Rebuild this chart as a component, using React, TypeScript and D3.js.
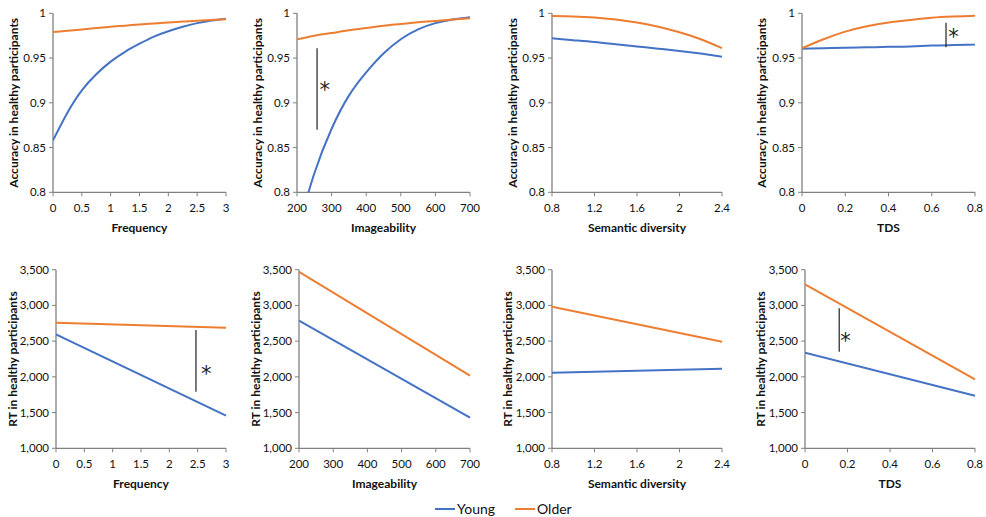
import React from "react";
import * as d3 from "d3";

// ---------- Data ----------
const freqX = [0, 0.25, 0.5, 0.75, 1, 1.25, 1.5, 1.75, 2, 2.25, 2.5, 2.75, 3];
const freqAccYoung = [0.858, 0.889, 0.914, 0.932, 0.946, 0.957, 0.966, 0.974, 0.98, 0.985, 0.989, 0.992, 0.994];
const freqAccOlder = [0.979, 0.9805, 0.982, 0.9835, 0.985, 0.9862, 0.9875, 0.9886, 0.9897, 0.9907, 0.9917, 0.9925, 0.9933];

const imgX = [200, 250, 300, 350, 400, 450, 500, 550, 600, 650, 700];
const imgAccYoung = [0.755, 0.821, 0.871, 0.908, 0.934, 0.955, 0.971, 0.982, 0.989, 0.993, 0.9955];
const imgAccOlder = [0.971, 0.975, 0.978, 0.981, 0.9835, 0.986, 0.988, 0.99, 0.9915, 0.993, 0.9945];

const semX = [0.8, 1.0, 1.2, 1.4, 1.6, 1.8, 2.0, 2.2, 2.4];
const semAccYoung = [0.972, 0.97, 0.968, 0.9655, 0.963, 0.9605, 0.958, 0.955, 0.9515];
const semAccOlder = [0.997, 0.9965, 0.9953, 0.993, 0.9896, 0.985, 0.9788, 0.971, 0.961];

const tdsX = [0, 0.1, 0.2, 0.3, 0.4, 0.5, 0.6, 0.7, 0.8];
const tdsAccYoung = [0.9604, 0.961, 0.9615, 0.962, 0.9625, 0.963, 0.964, 0.9645, 0.965];
const tdsAccOlder = [0.961, 0.971, 0.9795, 0.9855, 0.9896, 0.9925, 0.995, 0.9963, 0.9973];

const freqEnds = [0, 3];
const freqRtYoung = [2596, 1456];
const freqRtOlder = [2758, 2688];
const imgEnds = [200, 700];
const imgRtYoung = [2786, 1428];
const imgRtOlder = [3470, 2016];
const semEnds = [0.8, 2.4];
const semRtYoung = [2058, 2114];
const semRtOlder = [2982, 2492];
const tdsEnds = [0, 0.8];
const tdsRtYoung = [2338, 1736];
const tdsRtOlder = [3296, 1966];

const freqTicks = [0, 0.5, 1, 1.5, 2, 2.5, 3];
const imgTicks = [200, 300, 400, 500, 600, 700];
const semTicks = [0.8, 1.2, 1.6, 2, 2.4];
const tdsTicks = [0, 0.2, 0.4, 0.6, 0.8];
const accTicks = [0.8, 0.85, 0.9, 0.95, 1];
const rtTicks = [1000, 1500, 2000, 2500, 3000, 3500];

const seriesNames = ["Young", "Older"];
const colors = ["#4472C4", "#ED7D31"];

// significance markers: [x, yLow, yHigh, starX, starY]
const sigImgAcc = [258, 0.87, 0.961, 280, 0.922];
const sigTdsAcc = [0.666, 0.962, 0.9895, 0.7, 0.981];
const sigFreqRt = [2.47, 1792, 2656, 2.65, 2140];
const sigTdsRt = [0.161, 2352, 2960, 0.19, 2600];

// ---------- Layout ----------
const FONT = "Lato, 'Open Sans', sans-serif";

type Panel = {
  key: string;
  x0: number; x1: number;
  top: number; bottom: number;
  xDomain: number[]; yDomain: number[];
  xTicks: number[]; yTicks: number[];
  xFmt: (v: number) => string; yFmt: (v: number) => string;
  xTitle: string; yTitle: string; titleOff: number;
  xs: number[][]; ys: number[][];
  sig?: number[];
};

const accFmt = (v: number) => (v === 1 ? "1" : String(v));
const rtFmt = d3.format(",");
const numFmt = (v: number) => String(v);

const TOP = { top: 13.3, bottom: 192.3 };
const BOT = { top: 269.7, bottom: 448.3 };

const panels: Panel[] = [
  { key: "a1", x0: 53, x1: 226, ...TOP, xDomain: [0, 3], yDomain: [0.8, 1], xTicks: freqTicks, yTicks: accTicks, xFmt: numFmt, yFmt: accFmt, xTitle: "Frequency", yTitle: "Accuracy in healthy participants", titleOff: 39, xs: [freqX, freqX], ys: [freqAccYoung, freqAccOlder] },
  { key: "a2", x0: 297, x1: 470, ...TOP, xDomain: [200, 700], yDomain: [0.8, 1], xTicks: imgTicks, yTicks: accTicks, xFmt: numFmt, yFmt: accFmt, xTitle: "Imageability", yTitle: "Accuracy in healthy participants", titleOff: 39, xs: [imgX, imgX], ys: [imgAccYoung, imgAccOlder], sig: sigImgAcc },
  { key: "a3", x0: 552, x1: 722, ...TOP, xDomain: [0.8, 2.4], yDomain: [0.8, 1], xTicks: semTicks, yTicks: accTicks, xFmt: numFmt, yFmt: accFmt, xTitle: "Semantic diversity", yTitle: "Accuracy in healthy participants", titleOff: 39, xs: [semX, semX], ys: [semAccYoung, semAccOlder] },
  { key: "a4", x0: 802, x1: 975, ...TOP, xDomain: [0, 0.8], yDomain: [0.8, 1], xTicks: tdsTicks, yTicks: accTicks, xFmt: numFmt, yFmt: accFmt, xTitle: "TDS", yTitle: "Accuracy in healthy participants", titleOff: 40, xs: [tdsX, tdsX], ys: [tdsAccYoung, tdsAccOlder], sig: sigTdsAcc },
  { key: "r1", x0: 56, x1: 226, ...BOT, xDomain: [0, 3], yDomain: [1000, 3500], xTicks: freqTicks, yTicks: rtTicks, xFmt: numFmt, yFmt: rtFmt, xTitle: "Frequency", yTitle: "RT in healthy participants", titleOff: 43, xs: [freqEnds, freqEnds], ys: [freqRtYoung, freqRtOlder], sig: sigFreqRt },
  { key: "r2", x0: 299, x1: 470, ...BOT, xDomain: [200, 700], yDomain: [1000, 3500], xTicks: imgTicks, yTicks: rtTicks, xFmt: numFmt, yFmt: rtFmt, xTitle: "Imageability", yTitle: "RT in healthy participants", titleOff: 43, xs: [imgEnds, imgEnds], ys: [imgRtYoung, imgRtOlder] },
  { key: "r3", x0: 552, x1: 722, ...BOT, xDomain: [0.8, 2.4], yDomain: [1000, 3500], xTicks: semTicks, yTicks: rtTicks, xFmt: numFmt, yFmt: rtFmt, xTitle: "Semantic diversity", yTitle: "RT in healthy participants", titleOff: 44, xs: [semEnds, semEnds], ys: [semRtYoung, semRtOlder] },
  { key: "r4", x0: 805, x1: 975, ...BOT, xDomain: [0, 0.8], yDomain: [1000, 3500], xTicks: tdsTicks, yTicks: rtTicks, xFmt: numFmt, yFmt: rtFmt, xTitle: "TDS", yTitle: "RT in healthy participants", titleOff: 44, xs: [tdsEnds, tdsEnds], ys: [tdsRtYoung, tdsRtOlder], sig: sigTdsRt },
];

const AXIS = "#808080";

function PanelView({ p }: { p: Panel }) {
  const x = d3.scaleLinear().domain(p.xDomain).range([p.x0, p.x1]);
  const y = d3.scaleLinear().domain(p.yDomain).range([p.bottom, p.top]);
  const line = d3
    .line<[number, number]>()
    .x((d) => x(d[0]))
    .y((d) => y(d[1]))
    .curve(d3.curveNatural);
  const clipId = "clip-" + p.key;
  const midY = (p.top + p.bottom) / 2;
  return (
    <g>
      <defs>
        <clipPath id={clipId}>
          <rect x={p.x0} y={p.top - 5} width={p.x1 - p.x0 + 2} height={p.bottom - p.top + 5} />
        </clipPath>
      </defs>
      {/* y axis */}
      <line x1={p.x0} x2={p.x0} y1={p.top} y2={p.bottom} stroke={AXIS} strokeWidth={1.3} />
      {p.yTicks.map((t) => (
        <g key={"y" + t}>
          <line x1={p.x0 - 4} x2={p.x0} y1={y(t)} y2={y(t)} stroke={AXIS} strokeWidth={1} />
          <text x={p.x0 - 7} y={y(t)} dy="0.35em" textAnchor="end" fontSize={11.5} fill="#111">
            {p.yFmt(t)}
          </text>
        </g>
      ))}
      {/* x axis */}
      <line x1={p.x0} x2={p.x1} y1={p.bottom} y2={p.bottom} stroke={AXIS} strokeWidth={1.3} />
      {p.xTicks.map((t) => (
        <g key={"x" + t}>
          <line x1={x(t)} x2={x(t)} y1={p.bottom} y2={p.bottom + 4} stroke={AXIS} strokeWidth={1} />
          <text x={x(t)} y={p.bottom + 15.5} dy="0.35em" textAnchor="middle" fontSize={11.5} fill="#111">
            {p.xFmt(t)}
          </text>
        </g>
      ))}
      <text x={(p.x0 + p.x1) / 2} y={p.bottom + 35} dy="0.35em" textAnchor="middle" fontSize={12} fontWeight="bold" fill="#111">
        {p.xTitle}
      </text>
      <text
        transform={`translate(${p.x0 - p.titleOff},${midY}) rotate(-90)`}
        dy="0.35em"
        textAnchor="middle"
        fontSize={12}
        fontWeight="bold"
        fill="#111"
      >
        {p.yTitle}
      </text>
      {/* series */}
      <g clipPath={`url(#${clipId})`}>
        {p.xs.map((xsArr, i) => {
          const pts = xsArr.map((xv, j) => [xv, p.ys[i][j]] as [number, number]);
          return <path key={i} d={line(pts) || ""} fill="none" stroke={colors[i]} strokeWidth={2} />;
        })}
      </g>
      {p.sig && (
        <g>
          <line x1={x(p.sig[0])} x2={x(p.sig[0])} y1={y(p.sig[1])} y2={y(p.sig[2])} stroke="#222" strokeWidth={1.2} />
          <text x={x(p.sig[3])} y={y(p.sig[4])} dy="0.65em" textAnchor="middle" fontSize={21} fontFamily="'DejaVu Sans', sans-serif" fill="#222">
            *
          </text>
        </g>
      )}
    </g>
  );
}

export default function App() {
  return (
    <svg
      width={986}
      height={517}
      style={{ position: "absolute", left: 0, top: 0, background: "#fff", fontFamily: FONT }}
    >
      {panels.map((p) => (
        <PanelView key={p.key} p={p} />
      ))}
      {/* legend */}
      {seriesNames.map((name, i) => {
        const lx = 435 + i * 80;
        return (
          <g key={name}>
            <line x1={lx} x2={lx + 20} y1={509} y2={509} stroke={colors[i]} strokeWidth={2} />
            <text x={lx + 22} y={509} dy="0.35em" fontSize={14} fill="#111">
              {name}
            </text>
          </g>
        );
      })}
    </svg>
  );
}
